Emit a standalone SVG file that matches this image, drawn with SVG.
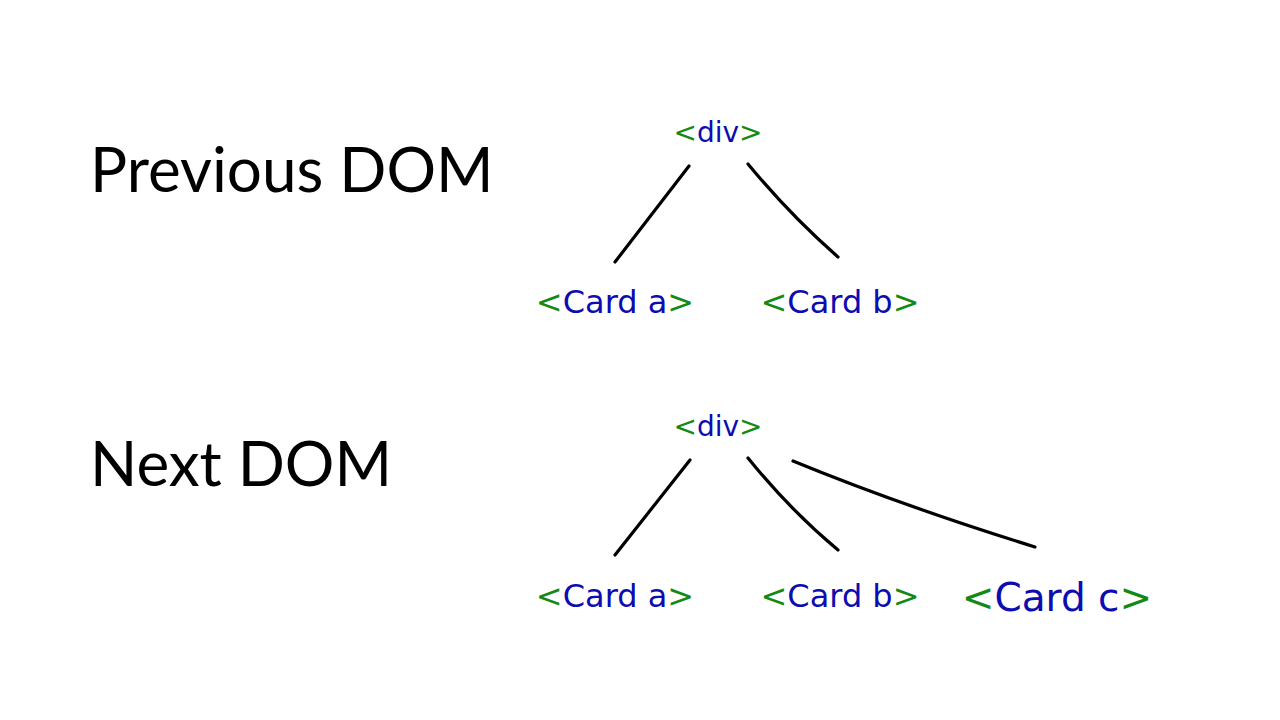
<svg xmlns="http://www.w3.org/2000/svg" width="1280" height="720" viewBox="0 0 1280 720">
<style>
.title{font-family:Lato,"Liberation Sans",sans-serif;font-size:62px;fill:#000}
.hw{font-family:"DejaVu Sans",sans-serif;text-anchor:middle}
.br{fill:#138a13}
.tx{fill:#0c0cb0}
.edge{stroke:#000;stroke-width:3.2;fill:none;stroke-linecap:round}
</style>
<rect width="1280" height="720" fill="#fff"/>
<g id="title-prev"><text class="title" x="90" y="192">Previous DOM</text></g>
<g id="title-next"><text class="title" x="90" y="486">Next DOM</text></g>
<g id="connectors">
<path class="edge" d="M689,166 L615,262"/>
<path class="edge" d="M748,164 Q790,215 838,257"/>
<path class="edge" d="M690,460 L615,555"/>
<path class="edge" d="M748,458 Q790,510 838,550"/>
<path class="edge" d="M793,461 Q900,505 1035,547"/>
</g>
<g id="prev-div"><text class="hw" x="718" y="142" font-size="28"><tspan class="br">&lt;</tspan><tspan class="tx">div</tspan><tspan class="br">&gt;</tspan></text></g>
<g id="prev-card-a"><text class="hw" x="615" y="313" font-size="32"><tspan class="br">&lt;</tspan><tspan class="tx">Card a</tspan><tspan class="br">&gt;</tspan></text></g>
<g id="prev-card-b"><text class="hw" x="840" y="313" font-size="32"><tspan class="br">&lt;</tspan><tspan class="tx">Card b</tspan><tspan class="br">&gt;</tspan></text></g>
<g id="next-div"><text class="hw" x="718" y="436" font-size="28"><tspan class="br">&lt;</tspan><tspan class="tx">div</tspan><tspan class="br">&gt;</tspan></text></g>
<g id="next-card-a"><text class="hw" x="615" y="607" font-size="32"><tspan class="br">&lt;</tspan><tspan class="tx">Card a</tspan><tspan class="br">&gt;</tspan></text></g>
<g id="next-card-b"><text class="hw" x="840" y="607" font-size="32"><tspan class="br">&lt;</tspan><tspan class="tx">Card b</tspan><tspan class="br">&gt;</tspan></text></g>
<g id="next-card-c"><text class="hw" x="1057" y="611" font-size="39"><tspan class="br">&lt;</tspan><tspan class="tx">Card c</tspan><tspan class="br">&gt;</tspan></text></g>
</svg>
